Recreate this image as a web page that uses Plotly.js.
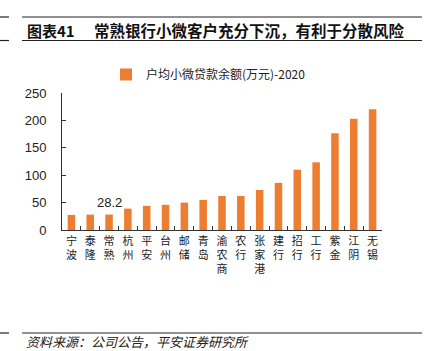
<!DOCTYPE html>
<html>
<head>
<meta charset="utf-8">
<script src="https://cdn.plot.ly/plotly-3.0.1.min.js"></script>
<style>html,body{margin:0;padding:0;background:#fff;}#chart{width:425px;height:351px;}</style>
</head>
<body>
<div id="chart"></div>
<script>
var categories = ['宁波','泰隆','常熟','杭州','平安','台州','邮储','青岛','渝农商','农行','张家港','建行','招行','工行','紫金','江阴','无锡'];
var values = [27.5, 28, 28.2, 39, 44, 46, 50, 55, 62, 62, 73, 86, 110, 123.5, 176.5, 203, 220.5];
var labels = ['', '', '28.2', '', '', '', '', '', '', '', '', '', '', '', '', '', ''];
var seriesName = '户均小微贷款余额(万元)-2020';
var yTicks = [0, 50, 100, 150, 200, 250];

var W = 425, H = 351;
var L = 62, R = 43, T = 93, B = 121;
var PW = W - L - R, PH = H - T - B;
function px(x) { return (x - L) / PW; }
function py(y) { return (H - B - y) / PH; }

var cjk = '"Noto Sans CJK SC", "Liberation Sans", sans-serif';
var lat = '"Liberation Sans", Arial, "Noto Sans CJK SC", sans-serif';

var xCats = categories.map(function (c) { return c.split('').join('<br>'); });

var trace = {
  type: 'bar',
  x: xCats,
  y: values,
  name: seriesName,
  marker: { color: '#ED7D31' },
  showlegend: true
};

var lineStyle = { color: '#222', width: 1.2 };
function hline(x0, x1, y) {
  return { type: 'line', xref: 'paper', yref: 'paper', x0: px(x0), x1: px(x1), y0: py(y), y1: py(y), line: lineStyle };
}

var annotations = [
  { xref: 'paper', yref: 'paper', x: px(25), y: py(30), xanchor: 'left', yanchor: 'middle', showarrow: false,
    text: '<b>图表41</b>', font: { family: cjk, size: 15, color: '#111' } },
  { xref: 'paper', yref: 'paper', x: px(92), y: py(30), xanchor: 'left', yanchor: 'middle', showarrow: false,
    text: '<b>常熟银行小微客户充分下沉，有利于分散风险</b>', font: { family: cjk, size: 15.5, color: '#111' } },
  { xref: 'paper', yref: 'paper', x: px(24), y: py(341), xanchor: 'left', yanchor: 'middle', showarrow: false,
    text: '<i>资料来源：公司公告，平安证券研究所</i>', font: { family: cjk, size: 13, color: '#222' } }
];
labels.forEach(function (t, i) {
  if (t) {
    annotations.push({ xref: 'x', yref: 'y', x: xCats[i], y: values[i], xanchor: 'center', yanchor: 'bottom',
      yshift: 3, showarrow: false, text: t, font: { family: lat, size: 13, color: '#222' } });
  }
});

var layout = {
  width: W, height: H,
  margin: { l: L, r: R, t: T, b: B, pad: 0 },
  paper_bgcolor: '#fff', plot_bgcolor: '#fff',
  bargap: 0.6,
  showlegend: true,
  legend: {
    orientation: 'h', x: px(106), y: py(60), xanchor: 'left', yanchor: 'top',
    font: { family: cjk, size: 12, color: '#222' }, bgcolor: 'rgba(0,0,0,0)'
  },
  xaxis: {
    type: 'category',
    showline: true, linecolor: '#333', linewidth: 1.3,
    ticks: 'inside', tickson: 'boundaries', ticklen: 4, tickcolor: '#333',
    tickangle: 0,
    tickfont: { family: cjk, size: 11, color: '#222' },
    showgrid: false, zeroline: false, fixedrange: true
  },
  yaxis: {
    range: [0, 250], tickvals: yTicks, ticktext: yTicks.map(String),
    showline: true, linecolor: '#333', linewidth: 1,
    ticks: 'inside', ticklen: 4, tickcolor: '#333',
    ticklabelstandoff: 12,
    tickfont: { family: lat, size: 13, color: '#222' },
    showgrid: false, zeroline: false, fixedrange: true
  },
  shapes: [
    hline(0, 9, 17), hline(22, 422, 17),
    hline(0, 9, 40.5), hline(22, 422, 40.5),
    hline(0, 9, 333), hline(22, 422, 333)
  ],
  annotations: annotations
};

Plotly.newPlot('chart', [trace], layout, { displayModeBar: false, staticPlot: true });
</script>
</body>
</html>
